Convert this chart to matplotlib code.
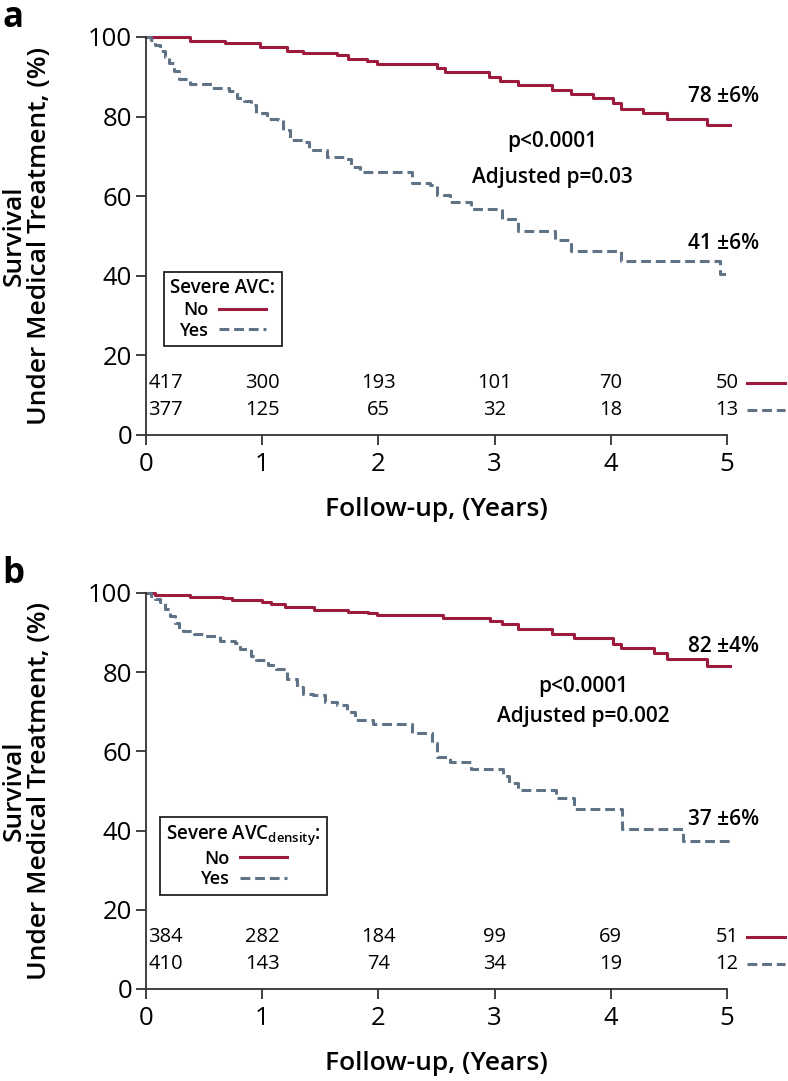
import matplotlib
matplotlib.use("Agg")
import matplotlib.pyplot as plt

plt.rcParams['font.family'] = ['Open Sans', 'DejaVu Sans']
plt.rcParams['mathtext.fontset'] = 'custom'
plt.rcParams['mathtext.rm'] = 'Open Sans'

# panel a : Severe AVC
a_no_t = [0, 0.38, 0.68, 0.98, 1.21, 1.35, 1.64, 1.74, 1.90, 1.99, 2.50, 2.57, 2.95, 3.05,
          3.20, 3.49, 3.66, 3.85, 4.02, 4.09, 4.28, 4.48, 4.83, 5.03]
a_no_s = [100, 99.1, 98.4, 97.6, 96.5, 96.0, 95.5, 94.4, 94.0, 93.2, 92.1, 91.1, 90.0, 88.9,
          87.9, 86.8, 85.8, 84.6, 83.3, 82.0, 80.8, 79.5, 77.8, 77.8]
a_yes_t = [0, 0.04, 0.08, 0.12, 0.16, 0.20, 0.24, 0.28, 0.38, 0.57, 0.71, 0.78, 0.84, 0.90,
           0.95, 1.04, 1.14, 1.18, 1.24, 1.37, 1.40, 1.56, 1.70, 1.76, 1.84, 2.29, 2.44,
           2.50, 2.62, 2.80, 3.06, 3.20, 3.52, 3.66, 4.09, 4.94, 5.03]
a_yes_s = [100, 99.2, 98.0, 96.5, 95.0, 93.5, 91.5, 89.5, 88.2, 87.1, 86.5, 84.6, 83.8, 82.9,
           80.8, 79.5, 79.1, 76.6, 74.1, 73.6, 71.7, 69.8, 69.4, 67.3, 66.1, 63.3, 62.7,
           60.2, 58.5, 56.8, 54.3, 51.2, 48.9, 46.3, 43.8, 40.5, 40.5]
a_risk_no = [417, 300, 193, 101, 70, 50]
a_risk_yes = [377, 125, 65, 32, 18, 13]

# panel b : Severe AVC density
b_no_t = [0, 0.08, 0.38, 0.66, 0.74, 1.00, 1.08, 1.20, 1.45, 1.74, 1.91, 1.99, 2.56, 2.96,
          3.06, 3.20, 3.49, 3.68, 4.02, 4.09, 4.37, 4.48, 4.83, 5.03]
b_no_s = [100, 99.6, 98.9, 98.7, 98.3, 97.7, 97.2, 96.4, 95.8, 95.3, 95.0, 94.5, 93.7, 93.0,
          92.2, 91.0, 89.7, 88.7, 87.2, 86.2, 84.8, 83.4, 81.5, 81.5]
b_yes_t = [0, 0.04, 0.08, 0.12, 0.16, 0.21, 0.25, 0.28, 0.32, 0.41, 0.49, 0.64, 0.77, 0.81,
           0.90, 0.95, 1.05, 1.12, 1.21, 1.30, 1.35, 1.44, 1.54, 1.64, 1.73, 1.80, 1.95,
           2.29, 2.46, 2.50, 2.62, 2.80, 3.07, 3.12, 3.20, 3.53, 3.68, 4.10, 4.62, 5.03]
b_yes_s = [100, 99.3, 98.6, 97.7, 96.0, 94.3, 92.5, 91.0, 90.3, 89.7, 89.1, 88.0, 87.4, 85.9,
           84.2, 83.0, 81.7, 80.9, 78.4, 76.3, 74.6, 74.2, 72.5, 71.7, 70.0, 67.9, 66.8,
           64.6, 62.0, 58.7, 57.3, 55.6, 53.9, 52.0, 50.2, 48.2, 45.5, 40.3, 37.4, 37.4]
b_risk_no = [384, 282, 184, 99, 69, 51]
b_risk_yes = [410, 143, 74, 34, 19, 12]

years = [0, 1, 2, 3, 4, 5]
red = '#9d1c3e'
blue = '#5f7286'
axcol = '#333333'

no_lbl_txt = {'a': '78 ±6%', 'b': '82 ±4%'}
yes_lbl_txt = {'a': '41 ±6%', 'b': '37 ±6%'}
adj_txt = {'a': 'Adjusted p=0.03', 'b': 'Adjusted p=0.002'}

fig = plt.figure(figsize=(7.88, 10.81), dpi=100)


def panel(rect, letter, no_t, no_s, yes_t, yes_s, risk_no, risk_yes, legend_title,
          leg_anchor, no_lbl, yes_lbl, p_xy):
    ax = fig.add_axes(rect)
    ax.step(no_t, no_s, where='post', color=red, lw=2.2, clip_on=False, label='No')
    ax.step(yes_t, yes_s, where='post', color=blue, lw=2.2, ls=(0, (3.2, 1.6)),
            clip_on=False, label='Yes')
    ax.set_xlim(0, 5)
    ax.set_ylim(0, 100)
    ax.set_xticks(years)
    ax.set_yticks(range(0, 101, 20))
    for s in ['top', 'right']:
        ax.spines[s].set_visible(False)
    for s in ['left', 'bottom']:
        ax.spines[s].set_color(axcol)
        ax.spines[s].set_linewidth(1.3)
    ax.tick_params(axis='both', direction='out', length=7, width=1.3, color=axcol,
                   labelsize=18.5)
    ax.tick_params(axis='y', pad=3)
    ax.tick_params(axis='x', pad=5)
    ax.set_xlabel('Follow-up, (Years)', fontsize=19, fontweight='semibold', labelpad=15)
    ax.set_ylabel('Survival\nUnder Medical Treatment, (%)', fontsize=19,
                  fontweight='semibold', linespacing=1.0)
    ax.yaxis.set_label_coords(-0.162, 0.5)

    # number at risk
    for i, yr in enumerate(years):
        ha = 'left' if i == 0 else 'center'
        x = 0.02 if i == 0 else yr
        ax.text(x, 13.1, str(risk_no[i]), ha=ha, va='center', fontsize=14.5)
        ax.text(x, 6.3, str(risk_yes[i]), ha=ha, va='center', fontsize=14.5)
    ax.plot([5.17, 5.5], [13.1, 13.1], color=red, lw=2.2, clip_on=False)
    ax.plot([5.17, 5.5], [6.3, 6.3], color=blue, lw=2.2, ls=(0, (3.2, 1.6)), clip_on=False)

    # annotations
    ax.text(4.97, no_lbl, no_lbl_txt[letter], ha='center', va='center',
            fontsize=15, fontweight='semibold')
    ax.text(4.97, yes_lbl, yes_lbl_txt[letter], ha='center', va='center',
            fontsize=15, fontweight='semibold')
    ax.text(p_xy[0], p_xy[1], 'p<0.0001', ha='center', va='center', fontsize=15,
            fontweight='semibold')
    ax.text(p_xy[0], p_xy[2], adj_txt[letter], ha='center', va='center', fontsize=15,
            fontweight='semibold')

    leg = ax.legend(title=legend_title, loc='upper left', bbox_to_anchor=leg_anchor,
                    markerfirst=False, fancybox=False, edgecolor='#222222',
                    framealpha=1, fontsize=13, title_fontsize=13.5, handlelength=2.6,
                    borderpad=0.35, labelspacing=0.15, handletextpad=0.6,
                    borderaxespad=0)
    leg.get_frame().set_linewidth(1.3)
    leg.get_title().set_fontweight('semibold')
    for t in leg.get_texts():
        t.set_fontweight('semibold')

    fig.text(0.003, rect[1] + rect[3] + 0.018, letter, fontsize=25, fontweight='bold',
             va='center', ha='left')
    return ax


W, H = 788, 1081
panel([146 / W, (H - 435) / H, 581 / W, 398 / H], 'a', a_no_t, a_no_s, a_yes_t, a_yes_s,
      a_risk_no, a_risk_yes, 'Severe AVC:', (0.031, 0.41), 85, 48, (3.5, 73.7, 64.7))
panel([146 / W, (H - 989) / H, 581 / W, 396 / H], 'b', b_no_t, b_no_s, b_yes_t, b_yes_s,
      b_risk_no, b_risk_yes, r'Severe AVC$_{\mathregular{density}}$:', (0.024, 0.435),
      86.4, 42.8, (3.76, 76.4, 68.8))

fig.savefig('out.png', dpi=100)
